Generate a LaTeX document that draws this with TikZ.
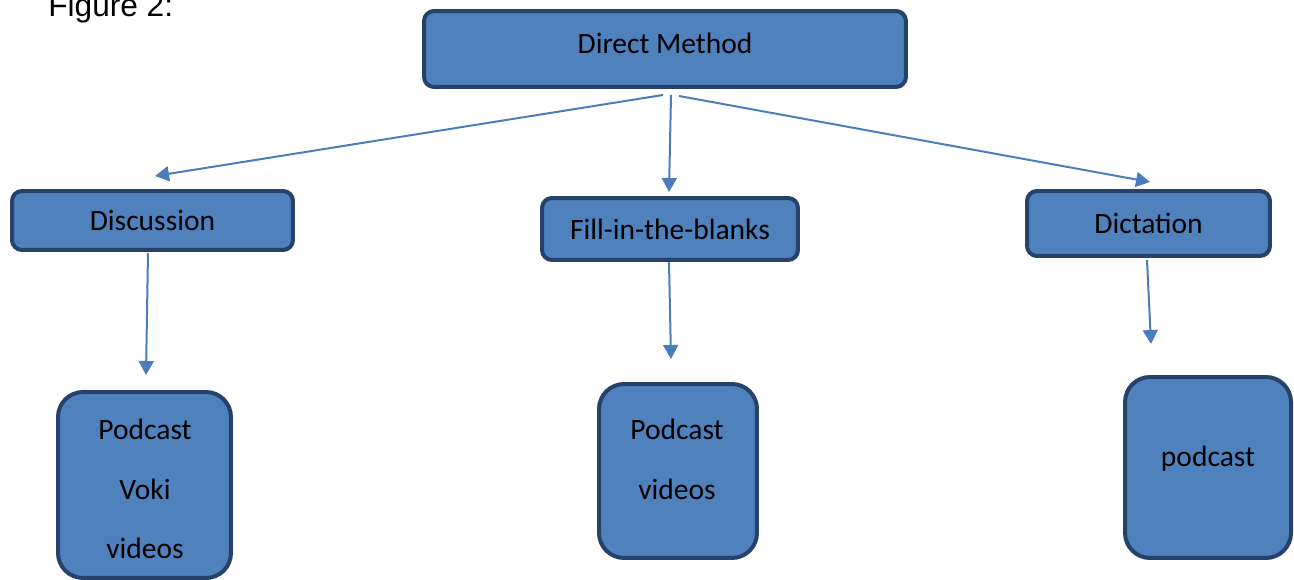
\documentclass[tikz,border=0pt]{standalone}
\usepackage{fontspec}
\setmainfont{Carlito}
\newfontfamily\figfont{Liberation Sans}
\usetikzlibrary{ arrows.meta, % For the triangle tips
                 calc,        % For shifted end points
               }
\definecolor{boxfill}{HTML}{4F81BD}
\definecolor{boxline}{HTML}{26416A}
\definecolor{arrowline}{HTML}{4A7EBB}

\begin{document}
\begin{tikzpicture}[x=0.02cm, y=-0.02cm,
    box/.style={draw=boxline, fill=boxfill, line width=0.08cm, rounded corners=0.2cm,
                font=\fontsize{16.8}{34}\selectfont, inner sep=0pt},
    leaf/.style={box, rounded corners=0.5cm},
    leaftext/.style={align=center, font=\fontsize{16.8}{34}\selectfont, inner sep=0pt},
    link/.style={draw=arrowline, line width=0.04cm, -{Triangle[length=0.28cm, width=0.3cm]}},
  ]
    \useasboundingbox (0,0) rectangle (1294,580);
    \node[font=\figfont\fontsize{18}{20}\selectfont, anchor=base west, inner sep=0pt] (fig) at (48,17) {Figure 2:};

    \node[box, minimum width=9.64cm, minimum height=1.52cm, text depth=0.22cm] (dm) at (665,49) {Direct Method};
    \node[box, minimum width=5.62cm, minimum height=1.18cm] (disc) at (152.5,220.5) {Discussion};
    \node[box, minimum width=5.12cm, minimum height=1.24cm] (fill) at (670,229) {Fill-in-the-blanks};
    \node[box, minimum width=4.86cm, minimum height=1.30cm] (dict) at (1148.5,223.5) {Dictation};

    \node[leaf, minimum width=3.46cm, minimum height=3.72cm] (pod1) at (144.5,485) {};
    \node[leaf, minimum width=3.16cm, minimum height=3.48cm] (pod2) at (678,471) {};
    \node[leaf, minimum width=3.32cm, minimum height=3.62cm] (pod3) at (1208,467.5) {};
    \node[leaftext] (pod1txt) at (145,489) {Podcast\\Voki\\videos};
    \node[leaftext] (pod2txt) at (677,459.5) {Podcast\\videos};
    \node[leaftext] (pod3txt) at (1208,459) {podcast};

    \draw[link] ($(dm.south)+(-2,6)$) -- ($(disc.north)+(2.5,-13)$);
    \draw[link] ($(dm.south)+(6,6)$) -- ($(fill.north)+(-1,-4)$);
    \draw[link] ($(dm.south)+(14,7)$) -- ($(dict.north)+(1.5,-7)$);
    \draw[link] ($(disc.south)+(-4.5,1)$) -- ($(pod1.north)+(1.5,-15)$);
    \draw[link] ($(fill.south)+(-1,0)$) -- ($(pod2.north)+(-7,-23)$);
    \draw[link] ($(dict.south)+(-1.5,2)$) -- ($(pod3.north)+(-57,-31)$);
  \end{tikzpicture}
\end{document}
